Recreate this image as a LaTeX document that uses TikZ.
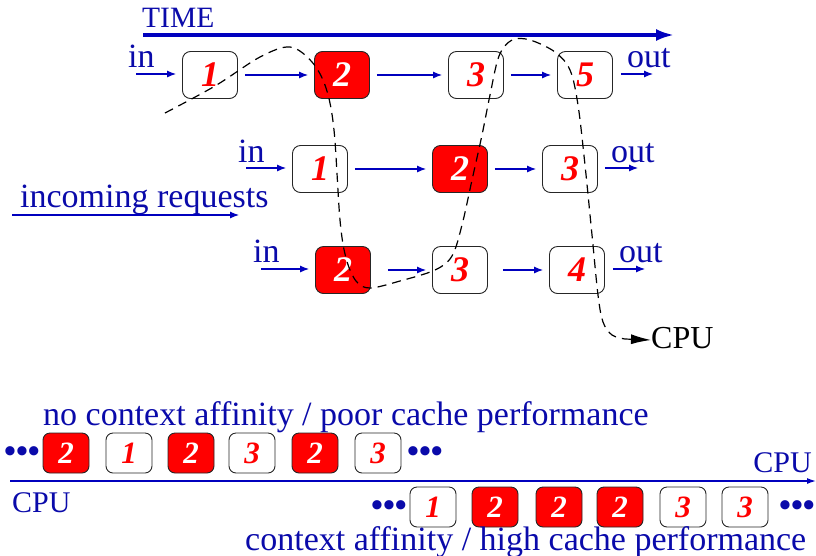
\documentclass[tikz,border=0pt]{standalone}
\usepackage{fontspec}
\setmainfont{Liberation Serif}
\usetikzlibrary{arrows.meta}
\definecolor{myblue}{RGB}{10,10,170}
\definecolor{arrblue}{RGB}{0,0,190}
\begin{document}
\begin{tikzpicture}[x=1pt,y=-1pt,
  bigbox/.style={draw=black!85, line width=0.9pt, rounded corners=8pt, minimum width=55pt, minimum height=47pt, inner sep=0pt, text=red, font=\fontsize{36}{36}\selectfont\bfseries\itshape},
  smallbox/.style={draw=black!85, line width=0.9pt, rounded corners=7pt, minimum width=46pt, minimum height=40pt, inner sep=0pt, text=red, font=\fontsize{31}{31}\selectfont\bfseries\itshape},
  hot/.style={fill=red, text=white},
  lbl/.style={inner sep=0pt, text=myblue, font=\fontsize{34}{34}\selectfont},
  dots/.style={inner sep=0pt, text=myblue, font=\fontsize{34}{34}\selectfont\bfseries},
  flow/.style={arrblue, line width=1.1pt, -{Latex[length=9pt,width=7pt]}},
  pathline/.style={black, line width=1.2pt, dash pattern=on 9pt off 6pt}
]
\useasboundingbox (0,0) rectangle (816,555);

% TIME
\node[lbl, anchor=base west, font=\fontsize{29.5}{29.5}\selectfont] (time) at (142,27) {TIME};
\coordinate (t0) at (143,35);
\coordinate (t1) at (674,35);
\draw[arrblue, line width=3.3pt, -{Latex[length=18pt,width=12pt]}] (t0) -- (t1);

% row 1
\node[bigbox] (a1) at (210,75) {1};
\node[bigbox, hot] (a2) at (342,75) {2};
\node[bigbox] (a3) at (476,75) {3};
\node[bigbox] (a5) at (585,75) {5};
% row 2
\node[bigbox] (b1) at (320,169) {1};
\node[bigbox, hot] (b2) at (460,169) {2};
\node[bigbox] (b3) at (570,169) {3};
% row 3
\node[bigbox, hot] (c2) at (343,270) {2};
\node[bigbox] (c3) at (460,270) {3};
\node[bigbox] (c4) at (577,270) {4};

% labels
\node[lbl, anchor=base west] (inA) at (128,67) {in};
\node[lbl, anchor=base west] (outA) at (627,67) {out};
\node[lbl, anchor=base west] (inB) at (238,162) {in};
\node[lbl, anchor=base west] (outB) at (611,162) {out};
\node[lbl, anchor=base west] (inC) at (253,262) {in};
\node[lbl, anchor=base west] (outC) at (619,262) {out};
\node[lbl, anchor=base west] (inc) at (20,207) {incoming requests};

% free ends
\coordinate (ia) at (136,74);
\coordinate (oa) at (653,74);
\coordinate (ib) at (246,168);
\coordinate (ob) at (638,168);
\coordinate (ic) at (261,269);
\coordinate (oc) at (645,269);
\coordinate (r0) at (12,215);
\coordinate (r1) at (239,215);

\draw[flow, shorten >=6pt] (ia) -- (a1.west |- ia);
\draw[flow, shorten <=7pt, shorten >=6pt] (a1) -- (a2);
\draw[flow, shorten <=7pt, shorten >=6pt] (a2) -- (a3);
\draw[flow, shorten <=7pt, shorten >=6pt] (a3) -- (a5);
\draw[flow, shorten <=8pt] (a5.east |- oa) -- (oa);

\draw[flow, shorten >=6pt] (ib) -- (b1.west |- ib);
\draw[flow, shorten <=7pt, shorten >=6pt] (b1) -- (b2);
\draw[flow, shorten <=7pt, shorten >=6pt] (b2) -- (b3);
\draw[flow, shorten <=7pt] (b3.east |- ob) -- (ob);

\draw[flow, shorten >=6pt] (ic) -- (c2.west |- ic);
\draw[flow, shorten <=17pt, shorten >=6pt] (c2) -- (c3);
\draw[flow, shorten <=15pt, shorten >=6pt] (c3) -- (c4);
\draw[flow, shorten <=8pt] (c4.east |- oc) -- (oc);

\draw[flow] (r0) -- (r1);

% CPU scheduling path
\node[inner sep=0pt, anchor=base west, font=\fontsize{32}{32}\selectfont] (cpu) at (651,348) {CPU};
\draw[pathline, -{Latex[length=20pt,width=10pt]}]
  plot[smooth, tension=0.55] coordinates {(165,113) (215,86) (260,57) (290,47) (312,62) (326,88) (334,130) (340,220) (346,258) (356,281) (370,288) (400,281) (435,270) (452,256) (462,225) (472,180) (482,135) (490,95) (499,56) (512,40) (530,40) (555,52) (570,70) (578,105) (585,165) (592,235) (598,295) (603,322) (612,335) (625,339)}
  -- (cpu.west |- 0,340);

% bottom part
\node[lbl, anchor=base west] (nca) at (43,425) {no context affinity / poor cache performance};
\node[dots] (d1) at (22,455) {•••};
\node[smallbox, hot] (p1) at (66,453) {2};
\node[smallbox] (p2) at (129,453) {1};
\node[smallbox, hot] (p3) at (191,453) {2};
\node[smallbox] (p4) at (252,453) {3};
\node[smallbox, hot] (p5) at (315,453) {2};
\node[smallbox] (p6) at (378,453) {3};
\node[dots] (d2) at (425,455) {•••};

\node[lbl, anchor=base east, font=\fontsize{30}{30}\selectfont] (cpuR) at (812,472) {CPU};
\node[lbl, anchor=base west, font=\fontsize{30}{30}\selectfont] (cpuL) at (12,512) {CPU};
\coordinate (l0) at (10,481);
\coordinate (l1) at (816,481);
\draw[arrblue, line width=1.3pt, -{Latex[length=9pt,width=6pt]}] (l0) -- (l1);

\node[dots] (d3) at (389,509) {•••};
\node[smallbox] (q1) at (433,507) {1};
\node[smallbox, hot] (q2) at (495,507) {2};
\node[smallbox, hot] (q3) at (559,507) {2};
\node[smallbox, hot] (q4) at (620,507) {2};
\node[smallbox] (q5) at (683,507) {3};
\node[smallbox] (q6) at (745,507) {3};
\node[dots] (d4) at (797,509) {•••};
\node[lbl, anchor=base west] (ca) at (245,550) {context affinity / high cache performance};
\end{tikzpicture}
\end{document}
